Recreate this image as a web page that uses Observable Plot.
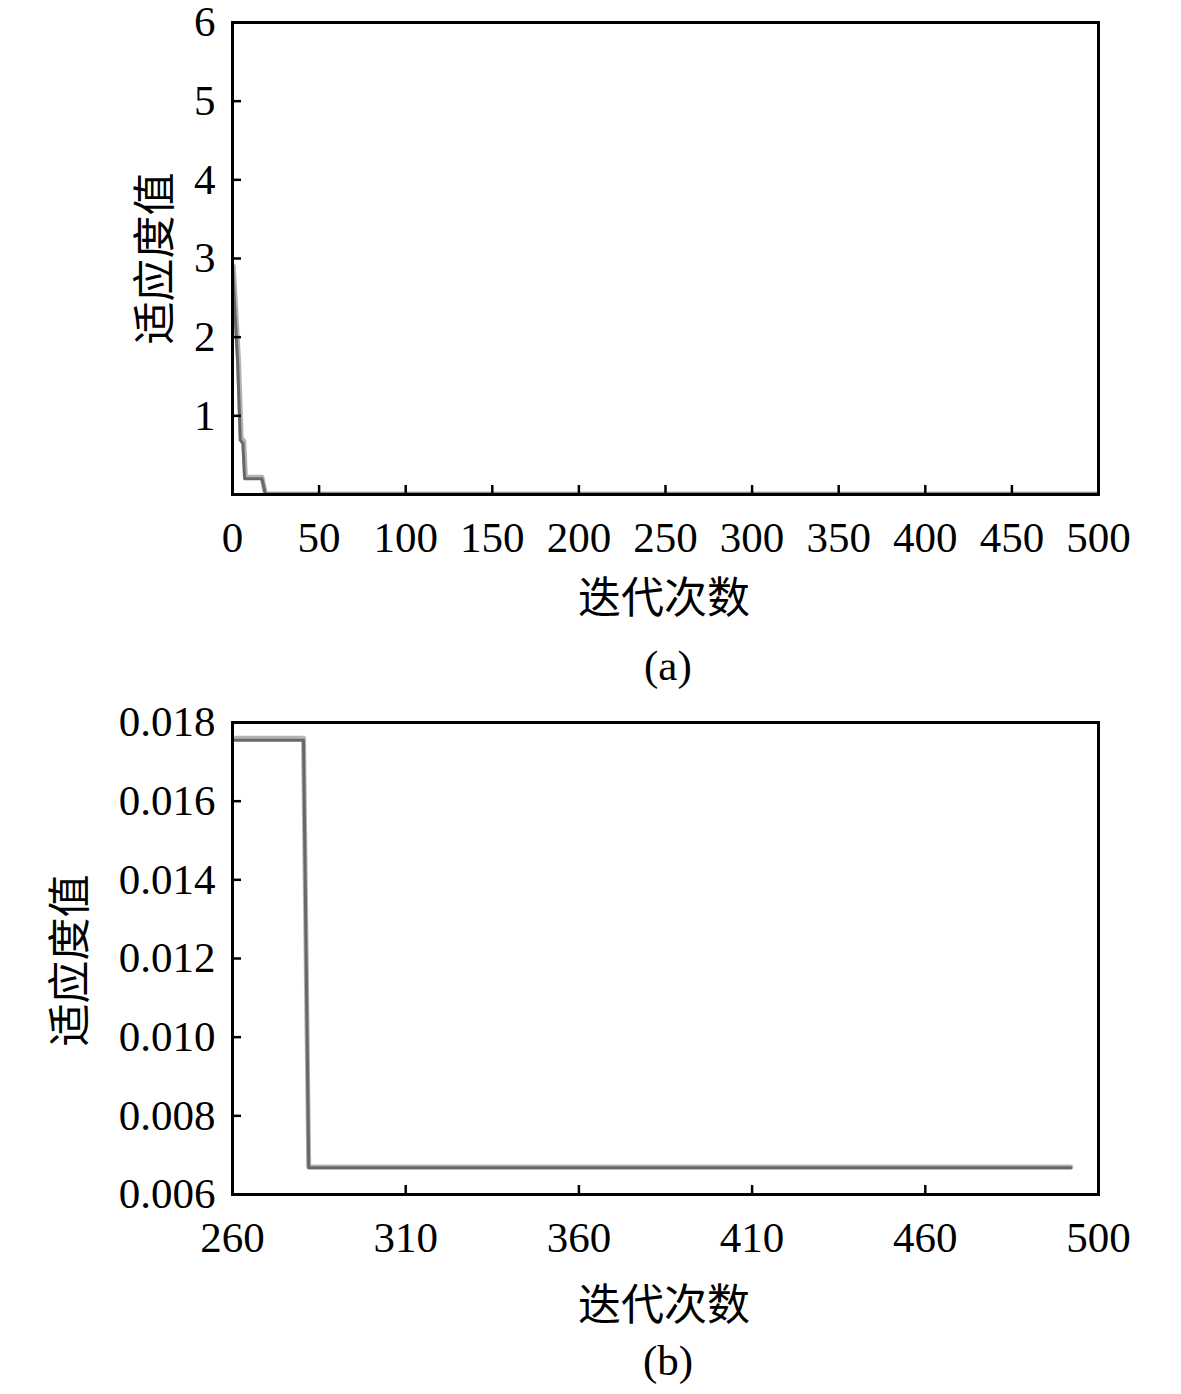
<!DOCTYPE html>
<html>
<head>
<meta charset="utf-8">
<script src="https://cdn.jsdelivr.net/npm/d3@7"></script>
<script src="https://cdn.jsdelivr.net/npm/@observablehq/plot@0.6"></script>
<style>
  html, body { margin: 0; padding: 0; background: #fff; }
  #wrap { position: relative; width: 1181px; height: 1394px; overflow: hidden;
          font-family: "Liberation Serif", "Noto Sans CJK SC", serif; color: #000; }
  .pl { position: absolute; left: 0; overflow: visible; }
  .t { position: absolute; font-size: 43px; line-height: 1; white-space: nowrap; }
</style>
</head>
<body>
<div id="wrap"></div>
<script>
// ---- data ----
const iterA = [0, 3, 4.5, 6, 7, 17, 19, 500];
const fitA  = [2.93, 1.66, 0.69, 0.65, 0.2, 0.2, 0.0067, 0.0067];
const iterALight = [0.5, 3.5, 5, 6.5, 7.5, 17, 19, 500];
const fitALight  = [2.9, 1.7, 0.72, 0.68, 0.22, 0.22, 0.0067, 0.0067];

const iterB = [260, 280.5, 282, 502];
const fitB  = [0.01755, 0.01755, 0.00668, 0.00668];
const fitBLight = [0.0176, 0.0176, 0.0067, 0.0067];

const xTicksA = [0, 50, 100, 150, 200, 250, 300, 350, 400, 450, 500];
const yTicksA = [1, 2, 3, 4, 5, 6];
const xTicksB = [260, 310, 360, 410, 460, 510];
const xTickLabelsB = ["260", "310", "360", "410", "460", "500"];
const yTicksB = [0.006, 0.008, 0.010, 0.012, 0.014, 0.016, 0.018];

const yTitle = "适应度值";
const xTitle = "迭代次数";
const captions = ["(a)", "(b)"];

const rowsA = iterA.map((x, i) => ({x, y: fitA[i]}));
const rowsAL = iterALight.map((x, i) => ({x, y: fitALight[i]}));
const rowsB = iterB.map((x, i) => ({x, y: fitB[i]}));
const rowsBL = iterB.map((x, i) => ({x, y: fitBLight[i]}));

const FONT = '"Liberation Serif", "Noto Sans CJK SC", serif';
const wrap = document.getElementById("wrap");
const MT = 42; // top margin inside svg

function makePlot({height, xDomain, yDomain, xTicks, yTicks, xFmt, yFmt, light, dark}) {
  return Plot.plot({
    width: 1181, height,
    marginTop: MT, marginLeft: 232, marginRight: 83, marginBottom: height - MT - 472,
    style: {fontFamily: FONT, fontSize: "43px", color: "#000", background: "transparent", overflow: "visible"},
    x: {domain: xDomain},
    y: {domain: yDomain},
    marks: [
      Plot.line(light, {x: "x", y: "y", stroke: "#b4b4b4", strokeWidth: 5, clip: true}),
      Plot.line(dark, {x: "x", y: "y", stroke: "#686868", strokeWidth: 3, clip: true}),
      Plot.axisX({ticks: xTicks, tickFormat: xFmt, tickSize: -9, tickPadding: 36, strokeWidth: 2.5, label: null, fontSize: 43}),
      Plot.axisY({ticks: yTicks, tickFormat: yFmt, tickSize: -9, tickPadding: 26, strokeWidth: 2.5, label: null, fontSize: 43}),
      Plot.frame({stroke: "#000", strokeWidth: 3})
    ]
  });
}

const pA = makePlot({
  height: 660, xDomain: [0, 500], yDomain: [0, 6],
  xTicks: xTicksA, yTicks: yTicksA, xFmt: d => String(d), yFmt: d => String(d),
  light: rowsAL, dark: rowsA
});
pA.classList.add("pl"); pA.style.top = (22 - MT) + "px";
wrap.appendChild(pA);

const pB = makePlot({
  height: 640, xDomain: [260, 510], yDomain: [0.006, 0.018],
  xTicks: xTicksB, yTicks: yTicksB,
  xFmt: d => xTickLabelsB[xTicksB.indexOf(d)], yFmt: d => d.toFixed(3),
  light: rowsBL, dark: rowsB
});
pB.classList.add("pl"); pB.style.top = (722 - MT) + "px";
wrap.appendChild(pB);

function addText(txt, cx, cy, rotate) {
  const d = document.createElement("div");
  d.className = "t";
  d.textContent = txt;
  wrap.appendChild(d);
  const w = d.offsetWidth, h = d.offsetHeight;
  d.style.left = (cx - w / 2) + "px";
  d.style.top = (cy - h / 2) + "px";
  if (rotate) d.style.transform = "rotate(-90deg)";
}
addText(yTitle, 155, 258, true);
addText(xTitle, 664, 598, false);
addText(captions[0], 668, 665, false);
addText(yTitle, 70, 960, true);
addText(xTitle, 664, 1305, false);
addText(captions[1], 668, 1360, false);
</script>
</body>
</html>
